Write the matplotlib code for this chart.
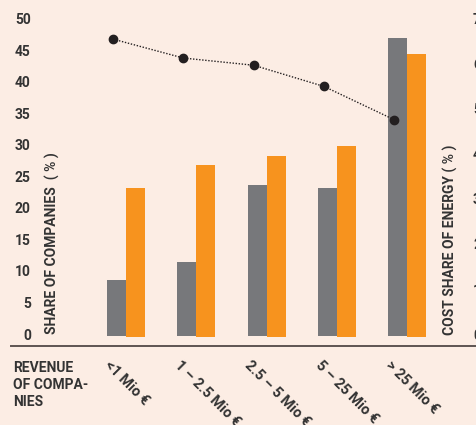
import matplotlib
matplotlib.use('Agg')
import matplotlib.pyplot as plt
import numpy as np
from matplotlib.lines import Line2D

# data
categories = ['<1 Mio €', '1 – 2.5 Mio €', '2.5 – 5 Mio €', '5 – 25 Mio €', '> 25 Mio €']
share_grey = [8.9, 11.8, 24.0, 23.5, 47.3]
share_orange = [23.6, 27.3, 28.8, 30.4, 45.0]
energy_cost = [6.55, 6.13, 5.97, 5.50, 4.76]
left_ticks = [0, 5, 10, 15, 20, 25, 30, 35, 40, 45, 50]
right_ticks = [0, 1, 2, 3, 4, 5, 6, 7]

bg = '#fcede4'
grey = '#77787b'
orange = '#f7931e'
txt = '#333333'

plt.rcParams['font.family'] = ['Liberation Sans Narrow', 'Roboto', 'DejaVu Sans']
plt.rcParams['font.weight'] = 'bold'

fig = plt.figure(figsize=(4.76, 4.25), dpi=100, facecolor=bg)
W, H = 476, 425
ax = fig.add_axes([35 / W, (H - 346) / H, (462 - 35) / W, 341 / H])
ax.set_facecolor(bg)

x = np.arange(len(categories))
bw = 0.27
ax.bar(x - bw / 2, share_grey, bw, color=grey, bottom=-0.3)
ax.bar(x + bw / 2, share_orange, bw, color=orange, bottom=-0.5)

ymin, ymax = -1.9, 52.2
ax.set_ylim(ymin, ymax)
ax.set_xlim(-1.296, 4.78)
ax.set_yticks(left_ticks)
ax.tick_params(axis='y', length=0, pad=3, labelsize=10, labelcolor=txt)
ax.set_xticks(x - bw / 2 - 0.07)
ax.set_xticklabels(categories, rotation=-45, ha='left', rotation_mode='anchor',
                   fontsize=10.5, color=txt)
ax.tick_params(axis='x', length=0, pad=9)
for s in ax.spines.values():
    s.set_visible(False)

ax2 = ax.twinx()
ax2.set_ylim(ymin * 7 / 50, ymax * 7 / 50)
ax2.set_yticks(right_ticks)
ax2.tick_params(axis='y', length=0, pad=8, labelsize=10, labelcolor=txt)
for s in ax2.spines.values():
    s.set_visible(False)
ax2.plot(x - bw / 2 - 0.05, energy_cost, color='#231f20', linestyle=(0, (1, 1.2)),
         linewidth=1, marker='o', markersize=6)

# axis titles
fig.text(52 / W, (H - 334) / H, 'SHARE OF COMPANIES  ( % )', rotation=90,
         ha='center', va='bottom', fontsize=10, color=txt)
fig.text(450 / W, (H - 335) / H, 'COST SHARE OF ENERGY ( % )', rotation=90,
         ha='center', va='bottom', fontsize=10, color=txt)
fig.text(13 / W, (H - 361) / H, 'REVENUE\nOF COMPA-\nNIES', ha='left', va='top',
         fontsize=10, color=txt, linespacing=1.25)

# baseline
fig.add_artist(Line2D([11 / W, 1.0], [(H - 346) / H] * 2, color='#5e5452', linewidth=1.4))

fig.savefig('out.png', dpi=100, facecolor=bg)
